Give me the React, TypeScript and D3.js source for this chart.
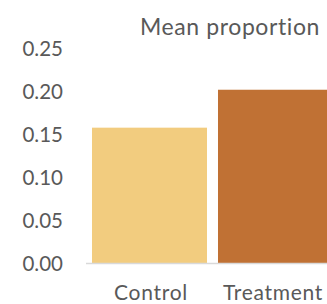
import * as d3 from 'd3';

const categories = ['Control', 'Treatment'];
const meanValues = [0.157, 0.201];
const yTicks = [0, 0.05, 0.1, 0.15, 0.2, 0.25];
const barColors = ['#F2CC7F', '#C07134'];

export default function App() {
  const width = 327;
  const height = 304;
  const baseline = 263;
  const left = 86;

  const y = d3.scaleLinear().domain([0, 0.25]).range([baseline, baseline - 215.5]);
  const x = d3.scaleBand<string>()
    .domain(categories)
    .range([left, left + 126 * 2.0079])
    .paddingInner(0.0873)
    .paddingOuter(0.0476);

  return (
    <svg
      width={width}
      height={height}
      style={{ position: 'fixed', left: 0, top: 0, display: 'block' }}
      fontFamily="Lato, sans-serif"
    >
      <rect width={width} height={height} fill="#fff" />
      <text x={230} y={35} textAnchor="middle" fontSize={23} letterSpacing={0.6} fill="#595959">
        Mean proportion
      </text>
      {yTicks.map(t => (
        <text
          key={t}
          x={63}
          y={y(t)}
          textAnchor="end"
          dominantBaseline="central"
          fontSize={20.5}
          fill="#595959"
        >
          {d3.format('.2f')(t)}
        </text>
      ))}
      {categories.map((c, i) => (
        <rect
          key={c}
          x={x(c)}
          y={y(meanValues[i])}
          width={x.bandwidth()}
          height={baseline - y(meanValues[i])}
          fill={barColors[i]}
        />
      ))}
      <line x1={left} x2={width} y1={baseline + 0.5} y2={baseline + 0.5} stroke="#D9D9D9" strokeWidth={1.5} />
      {categories.map((c, i) => (
        <text
          key={c}
          x={i === 0 ? 151 : 273}
          y={299.5}
          textAnchor="middle"
          fontSize={21}
          letterSpacing={0.7}
          fill="#595959"
        >
          {c}
        </text>
      ))}
    </svg>
  );
}
